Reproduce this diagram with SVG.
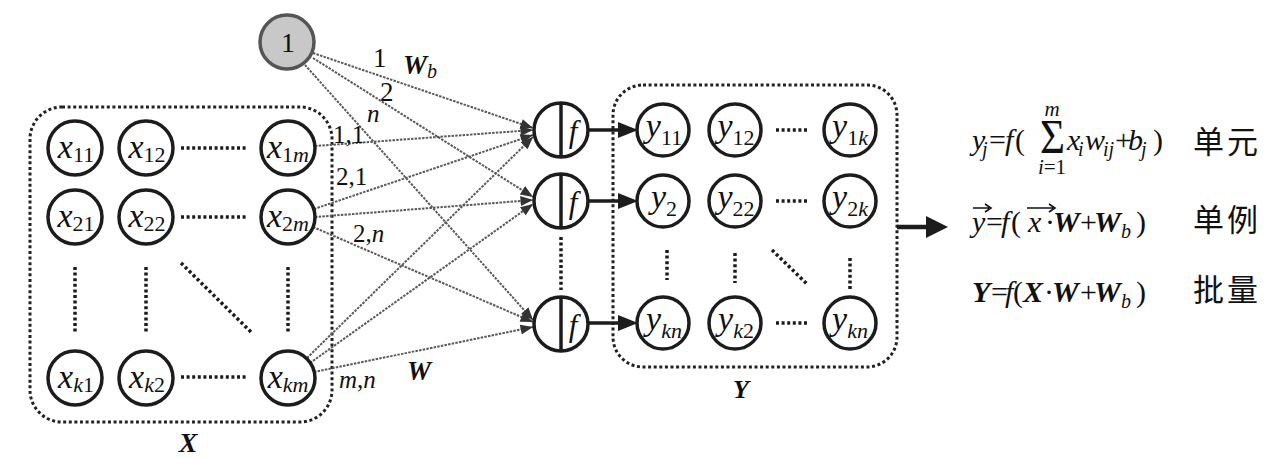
<svg xmlns="http://www.w3.org/2000/svg" width="1287" height="458" viewBox="0 0 1287 458">
<defs>
<style>
.nd{fill:#fff;stroke:#1c1c1c;stroke-width:3.5}
.t{font-family:"Liberation Serif",serif;fill:#111}
.v{font-size:34px;font-style:italic}
.s{font-size:22px;font-style:normal}
.si{font-size:22px;font-style:italic}
.dot{fill:none;stroke:#1c1c1c;stroke-width:3.5;stroke-dasharray:3 2.6}
.box{fill:none;stroke:#222;stroke-width:3;stroke-dasharray:3 2.6}
.c{fill:none;stroke:#5a5a5a;stroke-width:2;stroke-dasharray:2.5 1.2;marker-end:url(#ah)}
.lbl{font-family:"Liberation Serif",serif;font-size:25px;fill:#111}
.fm{font-family:"Liberation Serif",serif;font-size:30px;fill:#111}
.i{font-style:italic}
.bi{font-style:italic;font-weight:bold}
.fs{font-size:20px}
.cjk{font-family:"Noto Sans CJK SC",sans-serif;font-size:31px;fill:#111;letter-spacing:3px}
.thick{stroke:#1c1c1c;stroke-width:3.5}
</style>
<marker id="ah" viewBox="0 0 10 8" refX="10" refY="4" markerWidth="13" markerHeight="10" markerUnits="userSpaceOnUse" orient="auto"><path d="M0,0L10,4L0,8z" fill="#333"/></marker>
</defs>
<rect width="1287" height="458" fill="#fff"/>

<g id="boxX"><rect class="box" x="30" y="107" width="302" height="315" rx="32"/>
<text class="t bi" x="188" y="452" style="font-size:28px" text-anchor="middle">X</text></g>
<g id="boxY"><rect class="box" x="613" y="85" width="284" height="282" rx="30"/>
<text class="t bi" x="741" y="398" style="font-size:26px" text-anchor="middle">Y</text></g>

<g id="fillers">
<line class="dot" x1="181" y1="148" x2="248" y2="148"/>
<line class="dot" x1="181" y1="217" x2="248" y2="217"/>
<line class="dot" x1="181" y1="377" x2="248" y2="377"/>
<line class="dot" x1="75" y1="267" x2="75" y2="333"/>
<line class="dot" x1="146" y1="267" x2="146" y2="333"/>
<line class="dot" x1="288" y1="267" x2="288" y2="333"/>
<line class="dot" x1="181" y1="263" x2="252" y2="333"/>
<line class="dot" x1="776" y1="130" x2="807" y2="130"/>
<line class="dot" x1="776" y1="201" x2="807" y2="201"/>
<line class="dot" x1="776" y1="323" x2="807" y2="323"/>
<line class="dot" x1="667" y1="250" x2="667" y2="280"/>
<line class="dot" x1="735" y1="253" x2="735" y2="283"/>
<line class="dot" x1="850" y1="258" x2="850" y2="290"/>
<line class="dot" x1="772" y1="250" x2="807" y2="284"/>
<line class="dot" x1="561" y1="237" x2="561" y2="290"/>
</g>

<g id="connectors">
<line class="c" x1="313" y1="53" x2="533" y2="128"/>
<line class="c" x1="313" y1="58" x2="533" y2="197"/>
<line class="c" x1="305" y1="65" x2="533" y2="320"/>
<line class="c" x1="315" y1="146" x2="533" y2="130"/>
<line class="c" x1="314" y1="209" x2="533" y2="135"/>
<line class="c" x1="315" y1="217" x2="533" y2="200"/>
<line class="c" x1="313" y1="227" x2="533" y2="322"/>
<line class="c" x1="307" y1="358" x2="533" y2="137"/>
<line class="c" x1="310" y1="363" x2="533" y2="204"/>
<line class="c" x1="314" y1="372" x2="533" y2="327"/>
<line class="thick" x1="588" y1="130" x2="622" y2="130"/>
<polygon points="618,122 638,130 618,138" fill="#1c1c1c"/>
<line class="thick" x1="588" y1="201" x2="622" y2="201"/>
<polygon points="618,193 638,201 618,209" fill="#1c1c1c"/>
<line class="thick" x1="588" y1="323" x2="622" y2="323"/>
<polygon points="618,315 638,323 618,331" fill="#1c1c1c"/>
<line stroke="#1c1c1c" stroke-width="4.5" x1="897" y1="227" x2="930" y2="227"/>
<polygon points="926,216 948,227 926,238" fill="#1c1c1c"/>
</g>

<g id="edgeLabels">
<text class="lbl" x="373" y="67" style="font-size:27px">1</text>
<text class="lbl bi" x="403" y="74" style="font-size:27px">W<tspan class="fs" font-weight="normal" dy="4">b</tspan></text>
<text class="lbl" x="380" y="101" style="font-size:27px">2</text>
<text class="lbl i" x="367" y="122">n</text>
<text class="lbl" x="333" y="143">1,1</text>
<text class="lbl" x="336" y="185">2,1</text>
<text class="lbl" x="353" y="242">2,<tspan class="i">n</tspan></text>
<text class="lbl i" x="339" y="388">m<tspan font-style="normal">,</tspan>n</text>
<text class="lbl bi" x="407" y="380" style="font-size:27px">W</text>
</g>

<g id="n1"><circle cx="287" cy="42" r="27" fill="#c8c8c8" stroke="#555" stroke-width="3.5"/><text class="t" x="288" y="52" style="font-size:28px" text-anchor="middle">1</text></g>

<g id="x11"><circle class="nd" cx="75" cy="148" r="27"/><text class="t v" x="76" y="158" text-anchor="middle">x<tspan class="s" dy="4">11</tspan></text></g>
<g id="x12"><circle class="nd" cx="146" cy="148" r="27"/><text class="t v" x="147" y="158" text-anchor="middle">x<tspan class="s" dy="4">12</tspan></text></g>
<g id="x1m"><circle class="nd" cx="288" cy="148" r="27"/><text class="t v" x="288" y="158" text-anchor="middle">x<tspan class="s" dy="4">1</tspan><tspan class="si">m</tspan></text></g>
<g id="x21"><circle class="nd" cx="75" cy="217" r="27"/><text class="t v" x="76" y="227" text-anchor="middle">x<tspan class="s" dy="4">21</tspan></text></g>
<g id="x22"><circle class="nd" cx="146" cy="217" r="27"/><text class="t v" x="147" y="227" text-anchor="middle">x<tspan class="s" dy="4">22</tspan></text></g>
<g id="x2m"><circle class="nd" cx="288" cy="217" r="27"/><text class="t v" x="288" y="227" text-anchor="middle">x<tspan class="s" dy="4">2</tspan><tspan class="si">m</tspan></text></g>
<g id="xk1"><circle class="nd" cx="75" cy="378" r="27"/><text class="t v" x="76" y="388" text-anchor="middle">x<tspan class="si" dy="4">k</tspan><tspan class="s">1</tspan></text></g>
<g id="xk2"><circle class="nd" cx="146" cy="378" r="27"/><text class="t v" x="147" y="388" text-anchor="middle">x<tspan class="si" dy="4">k</tspan><tspan class="s">2</tspan></text></g>
<g id="xkm"><circle class="nd" cx="288" cy="378" r="27"/><text class="t v" x="288" y="388" text-anchor="middle">x<tspan class="si" dy="4">km</tspan></text></g>

<g id="f1"><circle class="nd" cx="561" cy="130" r="27"/><line class="thick" x1="561" y1="103" x2="561" y2="157"/><text class="t i" x="573" y="142" style="font-size:31px" text-anchor="middle">f</text></g>
<g id="f2"><circle class="nd" cx="561" cy="201" r="27"/><line class="thick" x1="561" y1="174" x2="561" y2="228"/><text class="t i" x="573" y="213" style="font-size:31px" text-anchor="middle">f</text></g>
<g id="f3"><circle class="nd" cx="561" cy="324" r="27"/><line class="thick" x1="561" y1="297" x2="561" y2="351"/><text class="t i" x="573" y="336" style="font-size:31px" text-anchor="middle">f</text></g>

<g id="y11"><circle class="nd" cx="663" cy="130" r="26"/><text class="t v" x="664" y="137" text-anchor="middle">y<tspan class="s" dy="8">11</tspan></text></g>
<g id="y12"><circle class="nd" cx="735" cy="130" r="26"/><text class="t v" x="736" y="137" text-anchor="middle">y<tspan class="s" dy="8">12</tspan></text></g>
<g id="y1k"><circle class="nd" cx="850" cy="130" r="26"/><text class="t v" x="850" y="137" text-anchor="middle">y<tspan class="s" dy="8">1</tspan><tspan class="si">k</tspan></text></g>
<g id="y2"><circle class="nd" cx="663" cy="201" r="26"/><text class="t v" x="664" y="208" text-anchor="middle">y<tspan class="s" dy="8">2</tspan></text></g>
<g id="y22"><circle class="nd" cx="735" cy="201" r="26"/><text class="t v" x="736" y="208" text-anchor="middle">y<tspan class="s" dy="8">22</tspan></text></g>
<g id="y2k"><circle class="nd" cx="850" cy="201" r="26"/><text class="t v" x="850" y="208" text-anchor="middle">y<tspan class="s" dy="8">2</tspan><tspan class="si">k</tspan></text></g>
<g id="ykn1"><circle class="nd" cx="663" cy="323" r="26"/><text class="t v" x="664" y="330" text-anchor="middle">y<tspan class="si" dy="8">kn</tspan></text></g>
<g id="yk2"><circle class="nd" cx="735" cy="323" r="26"/><text class="t v" x="736" y="330" text-anchor="middle">y<tspan class="si" dy="8">k</tspan><tspan class="s">2</tspan></text></g>
<g id="ykn2"><circle class="nd" cx="850" cy="323" r="26"/><text class="t v" x="850" y="330" text-anchor="middle">y<tspan class="si" dy="8">kn</tspan></text></g>

<g id="formulas">
<text class="fm" y="150"><tspan class="i" x="972">y</tspan><tspan class="i fs" x="982" dy="6">j</tspan><tspan x="989" dy="-6">=</tspan><tspan class="i" x="1005">f</tspan><tspan x="1015">(</tspan></text>
<text class="fm" x="1040" y="153" style="font-size:48px" textLength="25" lengthAdjust="spacingAndGlyphs">Σ</text>
<text class="fm i" x="1052" y="116" style="font-size:21px" text-anchor="middle">m</text>
<text class="fm" x="1052" y="174" style="font-size:21px" text-anchor="middle"><tspan class="i">i</tspan>=1</text>
<text class="fm" y="150"><tspan class="i" x="1067">x</tspan><tspan class="i fs" x="1078" dy="6">i</tspan><tspan class="i" x="1085" dy="-6">w</tspan><tspan class="i fs" x="1103" dy="6">ij</tspan><tspan x="1115" dy="-6">+</tspan><tspan class="i" x="1128">b</tspan><tspan class="i fs" x="1141" dy="6">j</tspan><tspan x="1153" dy="-6">)</tspan></text>
<text class="cjk" x="1193" y="153">单元</text>

<text class="fm" y="232"><tspan class="i" x="972">y</tspan><tspan x="986">=</tspan><tspan class="i" x="1001">f</tspan><tspan x="1011">(</tspan><tspan class="i" x="1028">x</tspan><tspan x="1045">·</tspan><tspan class="bi" x="1053">W</tspan><tspan x="1080">+</tspan><tspan class="bi" x="1094">W</tspan><tspan class="i fs" x="1121" dy="6">b</tspan><tspan x="1136" dy="-6">)</tspan></text>
<path d="M973,208H989M985,204L991,208L985,212" fill="none" stroke="#111" stroke-width="1.6"/>
<path d="M1027,208H1053M1049,204L1055,208L1049,212" fill="none" stroke="#111" stroke-width="1.6"/>
<text class="cjk" x="1193" y="231">单例</text>

<text class="fm" y="302"><tspan class="bi" x="972">Y</tspan><tspan x="991">=</tspan><tspan class="i" x="1005">f</tspan><tspan x="1013">(</tspan><tspan class="bi" x="1023">X</tspan><tspan x="1044">·</tspan><tspan class="bi" x="1052">W</tspan><tspan x="1080">+</tspan><tspan class="bi" x="1094">W</tspan><tspan class="i fs" x="1121" dy="6">b</tspan><tspan x="1136" dy="-6">)</tspan></text>
<text class="cjk" x="1193" y="301">批量</text>
</g>
</svg>
